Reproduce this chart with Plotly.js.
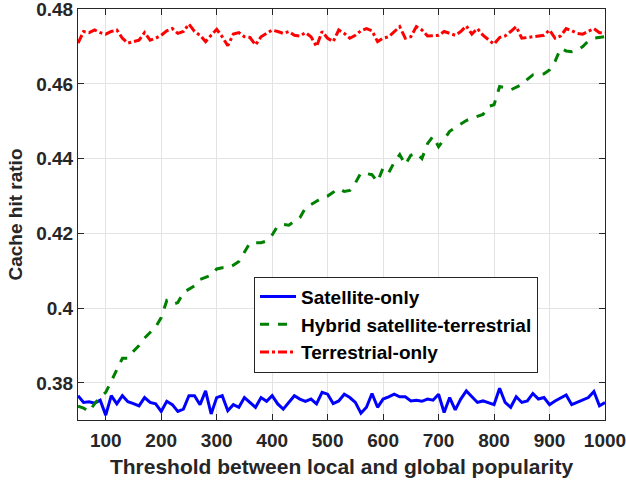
<!DOCTYPE html>
<html>
<head>
<meta charset="utf-8">
<script src="https://cdn.plot.ly/plotly-3.0.1.min.js"></script>
<style>html,body{margin:0;padding:0;background:#fff;}#chart{width:626px;height:485px;}</style>
</head>
<body>
<div id="chart"></div>
<script>
var thresholds = [50,60,70,80,90,100,110,120,130,140,150,160,170,180,190,200,210,220,230,240,250,260,270,280,290,300,310,320,330,340,350,360,370,380,390,400,410,420,430,440,450,460,470,480,490,500,510,520,530,540,550,560,570,580,590,600,610,620,630,640,650,660,670,680,690,700,710,720,730,740,750,760,770,780,790,800,810,820,830,840,850,860,870,880,890,900,910,920,930,940,950,960,970,980,990,1000];

var satelliteOnly = [0.3766,0.3748,0.3750,0.3746,0.3754,0.3714,0.3766,0.3744,0.3766,0.3750,0.3745,0.3739,0.3761,0.3748,0.3744,0.3724,0.3751,0.3742,0.3724,0.3730,0.3766,0.3766,0.3742,0.3779,0.3717,0.3761,0.3766,0.3726,0.3742,0.3735,0.3761,0.3748,0.3735,0.3761,0.3751,0.3766,0.3744,0.3730,0.3748,0.3766,0.3757,0.3751,0.3757,0.3744,0.3775,0.3770,0.3745,0.3752,0.3770,0.3761,0.3748,0.3719,0.3735,0.3772,0.3735,0.3757,0.3763,0.3770,0.3763,0.3763,0.3752,0.3754,0.3751,0.3757,0.3754,0.3770,0.3721,0.3761,0.3728,0.3757,0.3779,0.3763,0.3748,0.3752,0.3748,0.3742,0.3786,0.3748,0.3735,0.3763,0.3748,0.3752,0.3772,0.3757,0.3761,0.3742,0.3752,0.3761,0.3768,0.3742,0.3748,0.3754,0.3761,0.3777,0.3739,0.3748];

var hybrid = [0.3738,0.3733,0.3723,0.3745,0.3762,0.3775,0.3805,0.3835,0.3866,0.3866,0.3885,0.3900,0.3920,0.3935,0.3950,0.3975,0.4020,0.4010,0.4015,0.4042,0.4052,0.4060,0.4077,0.4082,0.4088,0.4105,0.4108,0.4108,0.4115,0.4125,0.4150,0.4175,0.4175,0.4175,0.4180,0.4196,0.4220,0.4224,0.4222,0.4232,0.4242,0.4268,0.4278,0.4286,0.4295,0.4300,0.4310,0.4320,0.4312,0.4315,0.4335,0.4362,0.4360,0.4357,0.4338,0.4375,0.4362,0.4390,0.4411,0.4384,0.4409,0.4415,0.4400,0.4440,0.4460,0.4432,0.4452,0.4473,0.4483,0.4492,0.4502,0.4508,0.4512,0.4518,0.4540,0.4544,0.4593,0.4590,0.4584,0.4592,0.4598,0.4612,0.4624,0.4625,0.4627,0.4637,0.4660,0.4695,0.4688,0.4686,0.4690,0.4700,0.4715,0.4722,0.4725,0.4726];

var terrestrialOnly = [0.4709,0.4740,0.4737,0.4744,0.4737,0.4733,0.4740,0.4744,0.4722,0.4709,0.4713,0.4717,0.4737,0.4717,0.4722,0.4730,0.4742,0.4748,0.4735,0.4740,0.4760,0.4740,0.4730,0.4713,0.4730,0.4746,0.4726,0.4702,0.4733,0.4737,0.4726,0.4724,0.4704,0.4726,0.4735,0.4744,0.4740,0.4735,0.4740,0.4730,0.4728,0.4737,0.4726,0.4700,0.4740,0.4722,0.4713,0.4744,0.4735,0.4722,0.4730,0.4742,0.4748,0.4742,0.4713,0.4722,0.4726,0.4740,0.4753,0.4722,0.4726,0.4753,0.4744,0.4728,0.4730,0.4730,0.4740,0.4735,0.4730,0.4740,0.4755,0.4733,0.4748,0.4730,0.4717,0.4706,0.4724,0.4728,0.4740,0.4753,0.4722,0.4724,0.4724,0.4726,0.4730,0.4744,0.4722,0.4728,0.4748,0.4742,0.4735,0.4733,0.4740,0.4748,0.4737,0.4737];

var seriesNames = ["Satellite-only", "Hybrid satellite-terrestrial", "Terrestrial-only"];
var xTickVals = [100,200,300,400,500,600,700,800,900,1000];
var xTickText = ["100","200","300","400","500","600","700","800","900","1000"];
var yTickVals = [0.38,0.40,0.42,0.44,0.46,0.48];
var yTickText = ["0.38","0.4","0.42","0.44","0.46","0.48"];

var fontFam = "Liberation Sans, Arial, sans-serif";
var txtColor = "#262626";

var traces = [
  {x: thresholds, y: satelliteOnly, name: seriesNames[0], mode: "lines",
   line: {color: "#0000FF", width: 3, dash: "solid"}},
  {x: thresholds, y: hybrid, name: seriesNames[1], mode: "lines",
   line: {color: "#008000", width: 3, dash: "dash"}},
  {x: thresholds, y: terrestrialOnly, name: seriesNames[2], mode: "lines",
   line: {color: "#FF0000", width: 3, dash: "dashdot"}}
];

var axisCommon = {
  showline: true, linecolor: txtColor, linewidth: 1, mirror: "ticks",
  ticks: "inside", ticklen: 6, tickwidth: 1, tickcolor: txtColor,
  showgrid: true, gridcolor: "#e3e3e3", gridwidth: 1, zeroline: false,
  ticklabeloverflow: "allow",
  tickfont: {family: fontFam, size: 19, color: txtColor, weight: "bold"}
};

var layout = {
  width: 626, height: 485,
  margin: {l: 78, r: 21, t: 9, b: 65},
  paper_bgcolor: "#ffffff", plot_bgcolor: "#ffffff",
  showlegend: true,
  legend: {
    x: 0.334, y: 0.232, xanchor: "left", yanchor: "middle",
    bgcolor: "#ffffff", bordercolor: txtColor, borderwidth: 1,
    font: {family: fontFam, size: 19, color: "#000000", weight: "bold"},
    traceorder: "normal", itemwidth: 36
  },
  xaxis: Object.assign({}, axisCommon, {
    range: [50, 1000], tickmode: "array", tickvals: xTickVals, ticktext: xTickText,
    ticklabelstandoff: 3,
    title: {text: "Threshold between local and global popularity", standoff: 9,
            font: {family: fontFam, size: 21, color: txtColor, weight: "bold"}}
  }),
  yaxis: Object.assign({}, axisCommon, {
    range: [0.3701, 0.48002], tickmode: "array", tickvals: yTickVals, ticktext: yTickText,
    title: {text: "Cache hit ratio", standoff: 8,
            font: {family: fontFam, size: 19, color: txtColor, weight: "bold"}}
  })
};

Plotly.newPlot("chart", traces, layout, {displayModeBar: false, staticPlot: true});
</script>
</body>
</html>
